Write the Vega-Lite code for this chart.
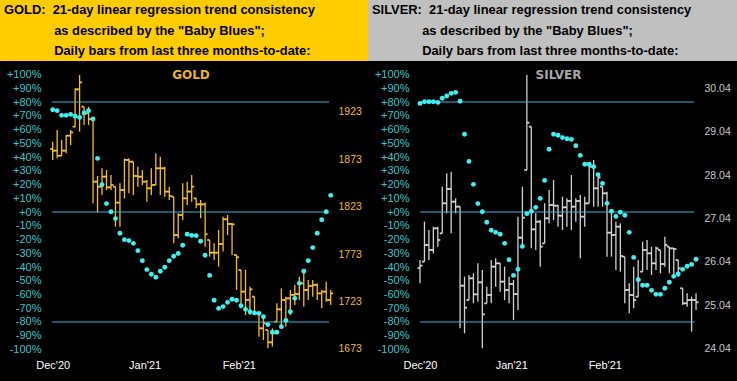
{
  "$schema": "https://vega.github.io/schema/vega-lite/v6.json",
  "padding": 0,
  "background": "black",
  "spacing": 0,
  "config": {"view": {"stroke": null}, "axis": {"labelFont": "Liberation Sans", "domain": false, "ticks": false, "grid": false, "title": null, "labelOverlap": false}},
  "datasets": {
    "gold": [
      {"i":0,"o":1884.0,"h":1891.7,"l":1872.4,"c":1882.2,"b":74.4},
      {"i":1,"o":1882.2,"h":1904.0,"l":1874.1,"c":1876.9,"b":73.7},
      {"i":2,"o":1876.9,"h":1893.5,"l":1876.5,"c":1882.2,"b":70.3},
      {"i":3,"o":1882.2,"h":1898.7,"l":1879.4,"c":1898.0,"b":70.3},
      {"i":4,"o":1898.0,"h":1904.0,"l":1888.2,"c":1901.5,"b":71.0},
      {"i":5,"o":1907.5,"h":1948.0,"l":1907.5,"c":1946.9,"b":69.6},
      {"i":6,"o":1946.9,"h":1962.0,"l":1902.2,"c":1954.3,"b":68.8},
      {"i":7,"o":1928.6,"h":1928.6,"l":1909.3,"c":1921.6,"b":72.0},
      {"i":8,"o":1921.6,"h":1928.6,"l":1909.3,"c":1915.6,"b":73.7},
      {"i":9,"o":1915.6,"h":1916.3,"l":1826.6,"c":1849.5,"b":67.6},
      {"i":10,"o":1849.5,"h":1855.5,"l":1817.2,"c":1844.2,"b":39.0},
      {"i":11,"o":1844.2,"h":1863.6,"l":1835.4,"c":1854.8,"b":19.9},
      {"i":12,"o":1854.8,"h":1861.8,"l":1840.7,"c":1843.5,"b":6.1},
      {"i":13,"o":1843.5,"h":1856.5,"l":1840.7,"c":1846.0,"b":0.2},
      {"i":14,"o":1844.2,"h":1844.2,"l":1802.0,"c":1827.4,"b":-4.8},
      {"i":15,"o":1827.4,"h":1847.7,"l":1802.0,"c":1840.7,"b":-15.5},
      {"i":16,"o":1840.7,"h":1874.1,"l":1831.9,"c":1872.4,"b":-20.1},
      {"i":17,"o":1872.4,"h":1874.1,"l":1837.2,"c":1870.6,"b":-20.8},
      {"i":18,"o":1870.6,"h":1870.6,"l":1835.4,"c":1855.5,"b":-22.8},
      {"i":19,"o":1855.5,"h":1865.3,"l":1844.2,"c":1854.8,"b":-28.1},
      {"i":20,"o":1854.8,"h":1861.8,"l":1846.0,"c":1849.5,"b":-35.4},
      {"i":21,"o":1849.5,"h":1851.3,"l":1828.4,"c":1842.5,"b":-41.9},
      {"i":22,"o":1842.5,"h":1863.6,"l":1835.4,"c":1846.0,"b":-45.3},
      {"i":23,"o":1846.0,"h":1879.4,"l":1846.0,"c":1863.6,"b":-47.5},
      {"i":24,"o":1863.6,"h":1875.9,"l":1835.4,"c":1863.6,"b":-43.1},
      {"i":25,"o":1863.6,"h":1865.3,"l":1833.7,"c":1839.0,"b":-40.2},
      {"i":26,"o":1839.0,"h":1844.2,"l":1830.2,"c":1834.4,"b":-35.4},
      {"i":27,"o":1833.7,"h":1833.7,"l":1784.5,"c":1793.2,"b":-32.2},
      {"i":28,"o":1793.2,"h":1816.1,"l":1789.7,"c":1814.3,"b":-30.1},
      {"i":29,"o":1814.3,"h":1847.7,"l":1809.1,"c":1831.9,"b":-24.2},
      {"i":30,"o":1831.9,"h":1849.5,"l":1824.9,"c":1839.0,"b":-16.2},
      {"i":31,"o":1839.0,"h":1856.5,"l":1828.4,"c":1844.2,"b":-17.0},
      {"i":32,"o":1831.9,"h":1831.9,"l":1821.4,"c":1825.6,"b":-17.2},
      {"i":33,"o":1825.6,"h":1830.2,"l":1810.8,"c":1825.6,"b":-21.3},
      {"i":34,"o":1825.6,"h":1827.4,"l":1780.9,"c":1794.0,"b":-31.5},
      {"i":35,"o":1788.0,"h":1788.0,"l":1770.4,"c":1774.6,"b":-46.1},
      {"i":36,"o":1774.6,"h":1784.5,"l":1766.9,"c":1774.6,"b":-64.2},
      {"i":37,"o":1774.6,"h":1798.5,"l":1759.8,"c":1783.8,"b":-70.1},
      {"i":38,"o":1783.8,"h":1812.6,"l":1775.7,"c":1809.8,"b":-68.8},
      {"i":39,"o":1809.8,"h":1814.3,"l":1793.2,"c":1804.9,"b":-65.7},
      {"i":40,"o":1804.9,"h":1805.6,"l":1772.2,"c":1804.5,"b":-63.5},
      {"i":41,"o":1772.2,"h":1772.2,"l":1735.2,"c":1769.7,"b":-64.2},
      {"i":42,"o":1756.3,"h":1756.3,"l":1715.9,"c":1733.5,"b":-68.1},
      {"i":43,"o":1733.5,"h":1756.3,"l":1708.9,"c":1724.7,"b":-70.8},
      {"i":44,"o":1724.7,"h":1738.7,"l":1708.9,"c":1735.9,"b":-72.5},
      {"i":45,"o":1728.2,"h":1728.2,"l":1708.9,"c":1710.6,"b":-73.4},
      {"i":46,"o":1710.6,"h":1712.4,"l":1686.0,"c":1694.8,"b":-73.7},
      {"i":47,"o":1694.8,"h":1707.1,"l":1682.5,"c":1700.1,"b":-76.1},
      {"i":48,"o":1693.0,"h":1693.0,"l":1673.7,"c":1680.0,"b":-81.9},
      {"i":49,"o":1680.0,"h":1694.8,"l":1675.5,"c":1689.5,"b":-87.5},
      {"i":50,"o":1701.8,"h":1721.2,"l":1701.8,"c":1714.8,"b":-87.5},
      {"i":51,"o":1714.8,"h":1737.0,"l":1696.6,"c":1724.7,"b":-83.4},
      {"i":52,"o":1724.7,"h":1728.2,"l":1696.6,"c":1726.4,"b":-78.8},
      {"i":53,"o":1726.4,"h":1735.2,"l":1708.9,"c":1730.0,"b":-72.5},
      {"i":54,"o":1730.0,"h":1740.5,"l":1719.4,"c":1731.0,"b":-62.8},
      {"i":55,"o":1731.0,"h":1749.3,"l":1724.7,"c":1742.3,"b":-51.9},
      {"i":56,"o":1742.3,"h":1756.3,"l":1717.7,"c":1735.2,"b":-43.1},
      {"i":57,"o":1735.2,"h":1745.8,"l":1724.7,"c":1739.5,"b":-35.4},
      {"i":58,"o":1739.5,"h":1745.8,"l":1728.2,"c":1740.5,"b":-25.9},
      {"i":59,"o":1740.5,"h":1742.3,"l":1724.7,"c":1731.7,"b":-15.5},
      {"i":60,"o":1731.7,"h":1735.2,"l":1715.9,"c":1733.5,"b":-5.6},
      {"i":61,"o":1733.5,"h":1744.0,"l":1722.9,"c":1724.7,"b":0.2},
      {"i":62,"o":1724.7,"h":1735.2,"l":1719.4,"c":1731.7,"b":12.1}
    ],
    "silver": [
      {"i":0,"o":25.90,"h":26.086,"l":25.550,"c":25.956,"b":79.0},
      {"i":1,"o":26.048,"h":26.967,"l":26.048,"c":26.431,"b":80.2},
      {"i":2,"o":26.431,"h":26.776,"l":26.086,"c":26.316,"b":80.2},
      {"i":3,"o":26.316,"h":26.852,"l":26.239,"c":26.814,"b":80.2},
      {"i":4,"o":26.814,"h":26.852,"l":26.393,"c":26.546,"b":79.7},
      {"i":5,"o":26.699,"h":27.772,"l":26.699,"c":27.389,"b":82.7},
      {"i":6,"o":27.389,"h":28.078,"l":27.159,"c":27.718,"b":84.4},
      {"i":7,"o":27.718,"h":28.117,"l":26.699,"c":27.427,"b":86.3},
      {"i":8,"o":27.427,"h":27.504,"l":27.159,"c":27.312,"b":87.0},
      {"i":9,"o":27.312,"h":27.312,"l":24.515,"c":25.496,"b":80.5},
      {"i":10,"o":25.496,"h":25.703,"l":24.400,"c":24.990,"b":56.5},
      {"i":11,"o":25.166,"h":25.741,"l":25.166,"c":25.665,"b":36.8},
      {"i":12,"o":25.665,"h":25.780,"l":25.090,"c":25.297,"b":20.1},
      {"i":13,"o":25.297,"h":26.009,"l":25.128,"c":25.573,"b":6.1},
      {"i":14,"o":25.573,"h":25.856,"l":24.055,"c":24.837,"b":0.2},
      {"i":15,"o":25.090,"h":25.473,"l":25.090,"c":25.281,"b":-7.5},
      {"i":16,"o":25.281,"h":26.086,"l":25.090,"c":25.933,"b":-13.3},
      {"i":17,"o":25.933,"h":26.124,"l":25.473,"c":26.009,"b":-14.8},
      {"i":18,"o":26.009,"h":26.009,"l":25.358,"c":25.588,"b":-16.2},
      {"i":19,"o":25.588,"h":25.933,"l":25.166,"c":25.396,"b":-22.8},
      {"i":20,"o":25.396,"h":25.703,"l":25.090,"c":25.534,"b":-34.7},
      {"i":21,"o":25.534,"h":25.626,"l":24.707,"c":25.304,"b":-46.1},
      {"i":22,"o":25.304,"h":27.082,"l":24.937,"c":26.599,"b":-41.7},
      {"i":23,"o":26.599,"h":27.772,"l":26.393,"c":27.059,"b":-25.0},
      {"i":24,"o":28.155,"h":30.339,"l":28.155,"c":29.243,"b":-1.2},
      {"i":25,"o":29.151,"h":29.151,"l":26.354,"c":26.791,"b":0.5},
      {"i":26,"o":26.791,"h":27.159,"l":26.316,"c":26.967,"b":3.4},
      {"i":27,"o":26.967,"h":27.006,"l":25.933,"c":26.393,"b":9.9},
      {"i":28,"o":26.469,"h":27.389,"l":26.469,"c":27.044,"b":23.0},
      {"i":29,"o":27.044,"h":27.695,"l":26.929,"c":27.350,"b":45.6},
      {"i":30,"o":27.350,"h":27.925,"l":27.006,"c":27.335,"b":56.5},
      {"i":31,"o":27.335,"h":27.350,"l":26.852,"c":27.105,"b":55.8},
      {"i":32,"o":27.105,"h":27.542,"l":26.776,"c":27.297,"b":54.1},
      {"i":33,"o":27.297,"h":27.504,"l":26.852,"c":27.442,"b":53.3},
      {"i":34,"o":27.442,"h":28.040,"l":26.776,"c":27.312,"b":52.8},
      {"i":35,"o":27.312,"h":27.504,"l":26.967,"c":27.442,"b":48.2},
      {"i":36,"o":27.442,"h":27.580,"l":26.124,"c":27.082,"b":41.2},
      {"i":37,"o":27.082,"h":27.542,"l":26.852,"c":27.389,"b":34.7},
      {"i":38,"o":27.389,"h":28.270,"l":27.389,"c":28.232,"b":34.7},
      {"i":39,"o":28.232,"h":28.385,"l":27.312,"c":27.734,"b":33.0},
      {"i":40,"o":27.734,"h":28.078,"l":27.312,"c":27.986,"b":27.2},
      {"i":41,"o":27.772,"h":27.772,"l":27.312,"c":27.619,"b":20.8},
      {"i":42,"o":27.619,"h":27.657,"l":26.163,"c":26.714,"b":6.3},
      {"i":43,"o":26.714,"h":27.235,"l":26.163,"c":26.661,"b":0.5},
      {"i":44,"o":26.661,"h":26.967,"l":25.856,"c":26.852,"b":-3.2},
      {"i":45,"o":26.852,"h":26.929,"l":25.818,"c":26.178,"b":-0.2},
      {"i":46,"o":26.163,"h":26.163,"l":25.090,"c":25.396,"b":-2.4},
      {"i":47,"o":25.396,"h":25.550,"l":24.860,"c":25.281,"b":-14.8},
      {"i":48,"o":25.281,"h":25.933,"l":24.975,"c":25.166,"b":-33.0},
      {"i":49,"o":25.243,"h":26.086,"l":25.243,"c":25.626,"b":-49.2},
      {"i":50,"o":25.818,"h":26.507,"l":25.818,"c":26.316,"b":-53.3},
      {"i":51,"o":26.316,"h":26.546,"l":25.856,"c":26.239,"b":-53.3},
      {"i":52,"o":26.239,"h":26.393,"l":25.741,"c":26.009,"b":-57.0},
      {"i":53,"o":26.009,"h":26.393,"l":25.856,"c":26.354,"b":-59.9},
      {"i":54,"o":26.316,"h":26.316,"l":25.780,"c":25.994,"b":-59.9},
      {"i":55,"o":25.994,"h":26.622,"l":25.933,"c":26.431,"b":-55.5},
      {"i":56,"o":26.393,"h":26.393,"l":25.780,"c":26.354,"b":-51.1},
      {"i":57,"o":26.354,"h":26.354,"l":25.741,"c":26.339,"b":-46.8},
      {"i":58,"o":26.086,"h":26.086,"l":25.703,"c":25.894,"b":-45.1},
      {"i":59,"o":25.435,"h":25.435,"l":25.051,"c":25.090,"b":-41.7},
      {"i":60,"o":25.090,"h":25.320,"l":25.013,"c":25.166,"b":-39.5},
      {"i":61,"o":25.166,"h":25.243,"l":24.438,"c":25.166,"b":-38.1},
      {"i":62,"o":25.166,"h":25.320,"l":24.937,"c":25.113,"b":-34.4}
    ],
    "refs": [{"v": 80}, {"v": 0}, {"v": -80}]
  },
  "hconcat": [
    {
      "spacing": 0,
      "vconcat": [
        {
          "width": 368, "height": 61,
          "view": {"fill": "#FFCC00", "stroke": null},
          "data": {"values": [{}]},
          "mark": {"type": "text", "text": ""},
          "title": {
            "text": ["GOLD:\u00a0\u00a021-day linear regression trend consistency", "\u200b\u00a0\u00a0\u00a0\u00a0\u00a0\u00a0\u00a0\u00a0\u00a0\u00a0\u00a0\u00a0\u00a0\u00a0as described by the \"Baby Blues\";", "\u200b\u00a0\u00a0\u00a0\u00a0\u00a0\u00a0\u00a0\u00a0\u00a0\u00a0\u00a0\u00a0\u00a0\u00a0Daily bars from last three months-to-date:"],
            "anchor": "start", "frame": "group", "orient": "bottom", "offset": -57, "baseline": "top", "dx": 4,
            "font": "Liberation Sans", "fontSize": 12.9, "fontWeight": "bold", "color": "black", "lineHeight": 20.5
          }
        },
        {
          "width": 368, "height": 320,
          "view": {"fill": "black", "stroke": null},
          "title": {"text": "GOLD", "anchor": "middle", "frame": "group", "orient": "bottom", "offset": -311, "baseline": "top", "dx": 7, "font": "DejaVu Sans", "fontSize": 12, "fontWeight": "bold", "color": "#E6B42A"},
          "data": {"name": "gold"},
          "layer": [
            {
              "layer": [
                {
                  "mark": {"type": "rule", "color": "#F5BE2D", "strokeWidth": 1.3},
                  "encoding": {
                    "x": {"field": "i", "type": "quantitative", "scale": {"domain": [-11.75, 70.32], "nice": false, "zero": false},
                      "axis": {"orient": "bottom", "offset": -30, "values": [0, 20.5, 41.5], "labelExpr": "datum.value < 10 ? \"Dec'20\" : datum.value < 30 ? \"Jan'21\" : \"Feb'21\"", "labelColor": "white", "labelFontSize": 11, "labelPadding": 8, "labelFlush": false, "labelOverlap": false}},
                    "y": {"field": "l", "type": "quantitative", "scale": {"domain": [1639.2, 1976.8], "nice": false, "zero": false},
                      "axis": {"orient": "right", "offset": -34, "values": [1673, 1723, 1773, 1823, 1873, 1923], "format": "d", "labelColor": "#F0B830", "labelFontSize": 10.5, "labelPadding": 4, "labelFlush": false, "labelOverlap": false}},
                    "y2": {"field": "h"}
                  }
                },
                {
                  "mark": {"type": "rule", "color": "#F5BE2D", "strokeWidth": 1.8, "xOffset": -2.5, "x2Offset": 0},
                  "encoding": {"x": {"field": "i", "type": "quantitative"}, "x2": {"field": "i"}, "y": {"field": "o", "type": "quantitative"}}
                },
                {
                  "mark": {"type": "rule", "color": "#F5BE2D", "strokeWidth": 1.8, "xOffset": 0, "x2Offset": 2.5},
                  "encoding": {"x": {"field": "i", "type": "quantitative"}, "x2": {"field": "i"}, "y": {"field": "c", "type": "quantitative"}}
                }
              ]
            },
            {
              "layer": [
                {
                  "data": {"name": "refs"},
                  "mark": {"type": "rule", "color": "#3CB4DC", "strokeWidth": 1.2},
                  "encoding": {
                    "x": {"datum": -0.16, "type": "quantitative"},
                    "x2": {"datum": 61.62},
                    "y": {"field": "v", "type": "quantitative", "scale": {"domain": [-122.91, 109.82], "nice": false, "zero": false},
                      "axis": {"orient": "left", "offset": -45, "values": [-100, -90, -80, -70, -60, -50, -40, -30, -20, -10, 0, 10, 20, 30, 40, 50, 60, 70, 80, 90, 100], "labelExpr": "(datum.value >= 0 ? '+' : '') + datum.value + '%'", "labelColor": "#35C9C9", "labelFontSize": 11, "labelPadding": 4, "labelFlush": false, "labelOverlap": false, "labelSeparation": 0, "labelBound": false}}
                  }
                },
                {
                  "mark": {"type": "circle", "color": "#3FF0F0", "size": 24, "opacity": 1},
                  "encoding": {"x": {"field": "i", "type": "quantitative"}, "y": {"field": "b", "type": "quantitative",
                    "axis": {"orient": "left", "offset": -45, "values": [-100, -90, -80, -70, -60, -50, -40, -30, -20, -10, 0, 10, 20, 30, 40, 50, 60, 70, 80, 90, 100], "labelExpr": "(datum.value >= 0 ? '+' : '') + datum.value + '%'", "labelColor": "#35C9C9", "labelFontSize": 11, "labelPadding": 4, "labelFlush": false, "labelOverlap": false, "labelSeparation": 0, "labelBound": false}}}
                }
              ]
            }
          ],
          "resolve": {"scale": {"y": "independent"}, "axis": {"y": "independent"}}
        }
      ]
    },
    {
      "spacing": 0,
      "vconcat": [
        {
          "width": 369, "height": 61,
          "view": {"fill": "#C0C0C0", "stroke": null},
          "data": {"values": [{}]},
          "mark": {"type": "text", "text": ""},
          "title": {
            "text": ["SILVER:\u00a0\u00a021-day linear regression trend consistency", "\u200b\u00a0\u00a0\u00a0\u00a0\u00a0\u00a0\u00a0\u00a0\u00a0\u00a0\u00a0\u00a0\u00a0\u00a0as described by the \"Baby Blues\";", "\u200b\u00a0\u00a0\u00a0\u00a0\u00a0\u00a0\u00a0\u00a0\u00a0\u00a0\u00a0\u00a0\u00a0\u00a0Daily bars from last three months-to-date:"],
            "anchor": "start", "frame": "group", "orient": "bottom", "offset": -57, "baseline": "top", "dx": 4,
            "font": "Liberation Sans", "fontSize": 12.9, "fontWeight": "bold", "color": "black", "lineHeight": 20.5
          }
        },
        {
          "width": 369, "height": 320,
          "view": {"fill": "black", "stroke": null},
          "title": {"text": "SILVER", "anchor": "middle", "frame": "group", "orient": "bottom", "offset": -311, "baseline": "top", "dx": 6, "font": "DejaVu Sans", "fontSize": 12, "fontWeight": "bold", "color": "#A8A8A8"},
          "data": {"name": "silver"},
          "layer": [
            {
              "layer": [
                {
                  "mark": {"type": "rule", "color": "#D2D2D2", "strokeWidth": 1.3},
                  "encoding": {
                    "x": {"field": "i", "type": "quantitative", "scale": {"domain": [-11.68, 71.2], "nice": false, "zero": false},
                      "axis": {"orient": "bottom", "offset": -30, "values": [0, 20.5, 41.5], "labelExpr": "datum.value < 10 ? \"Dec'20\" : datum.value < 30 ? \"Jan'21\" : \"Feb'21\"", "labelColor": "white", "labelFontSize": 11, "labelPadding": 8, "labelFlush": false, "labelOverlap": false}},
                    "y": {"field": "l", "type": "quantitative", "scale": {"domain": [23.304, 30.661], "nice": false, "zero": false},
                      "axis": {"orient": "right", "offset": -37, "values": [24.04, 25.04, 26.04, 27.04, 28.04, 29.04, 30.04], "format": ".2f", "labelColor": "#C8C8C8", "labelFontSize": 10.5, "labelPadding": 4, "labelFlush": false, "labelOverlap": false}},
                    "y2": {"field": "h"}
                  }
                },
                {
                  "mark": {"type": "rule", "color": "#D2D2D2", "strokeWidth": 1.8, "xOffset": -2.5, "x2Offset": 0},
                  "encoding": {"x": {"field": "i", "type": "quantitative"}, "x2": {"field": "i"}, "y": {"field": "o", "type": "quantitative"}}
                },
                {
                  "mark": {"type": "rule", "color": "#D2D2D2", "strokeWidth": 1.8, "xOffset": 0, "x2Offset": 2.5},
                  "encoding": {"x": {"field": "i", "type": "quantitative"}, "x2": {"field": "i"}, "y": {"field": "c", "type": "quantitative"}}
                }
              ]
            },
            {
              "layer": [
                {
                  "data": {"name": "refs"},
                  "mark": {"type": "rule", "color": "#3CB4DC", "strokeWidth": 1.2},
                  "encoding": {
                    "x": {"datum": 0, "type": "quantitative"},
                    "x2": {"datum": 61.6},
                    "y": {"field": "v", "type": "quantitative", "scale": {"domain": [-122.91, 109.82], "nice": false, "zero": false},
                      "axis": {"orient": "left", "offset": -45, "values": [-100, -90, -80, -70, -60, -50, -40, -30, -20, -10, 0, 10, 20, 30, 40, 50, 60, 70, 80, 90, 100], "labelExpr": "(datum.value >= 0 ? '+' : '') + datum.value + '%'", "labelColor": "#35C9C9", "labelFontSize": 11, "labelPadding": 4, "labelFlush": false, "labelOverlap": false, "labelSeparation": 0, "labelBound": false}}
                  }
                },
                {
                  "mark": {"type": "circle", "color": "#3FF0F0", "size": 24, "opacity": 1},
                  "encoding": {"x": {"field": "i", "type": "quantitative"}, "y": {"field": "b", "type": "quantitative",
                    "axis": {"orient": "left", "offset": -45, "values": [-100, -90, -80, -70, -60, -50, -40, -30, -20, -10, 0, 10, 20, 30, 40, 50, 60, 70, 80, 90, 100], "labelExpr": "(datum.value >= 0 ? '+' : '') + datum.value + '%'", "labelColor": "#35C9C9", "labelFontSize": 11, "labelPadding": 4, "labelFlush": false, "labelOverlap": false, "labelSeparation": 0, "labelBound": false}}}
                }
              ]
            }
          ],
          "resolve": {"scale": {"y": "independent"}, "axis": {"y": "independent"}}
        }
      ]
    }
  ]
}
